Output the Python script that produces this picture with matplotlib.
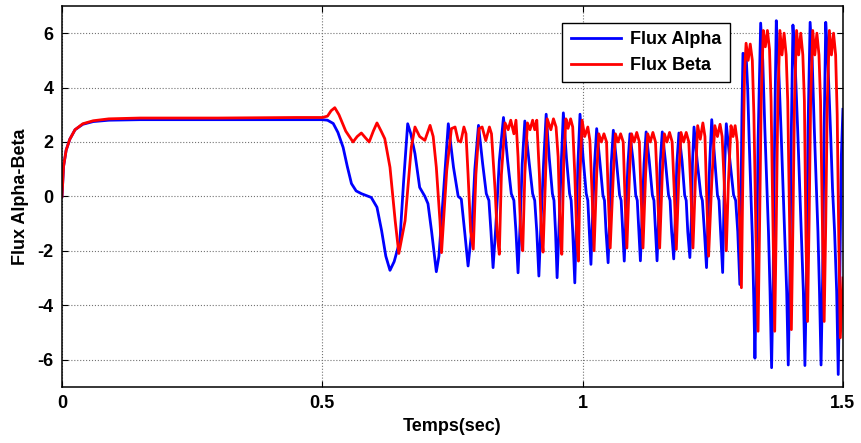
import matplotlib
matplotlib.use("Agg")
import matplotlib.pyplot as plt

# (time, flux) vertices, one list per stretch of the record
alpha_start = [(0, 0), (0.003, 1.1), (0.008, 1.7), (0.015, 2.1), (0.025, 2.45), (0.04, 2.65),
               (0.06, 2.75), (0.09, 2.8), (0.15, 2.82), (0.3, 2.82), (0.45, 2.82), (0.5, 2.82)]
alpha_transient = [(0.510, 2.80), (0.521, 2.68), (0.530, 2.35), (0.540, 1.80), (0.548, 1.10),
                   (0.556, 0.47), (0.565, 0.20), (0.575, 0.10), (0.594, -0.04), (0.605, -0.4),
                   (0.614, -1.27), (0.622, -2.2), (0.630, -2.72), (0.638, -2.4), (0.649, -1.64),
                   (0.656, 0.5), (0.664, 2.67), (0.670, 2.3), (0.678, 1.57), (0.687, 0.33),
                   (0.697, 0.0), (0.703, -0.27), (0.710, -1.3), (0.719, -2.77), (0.724, -2.2),
                   (0.733, 0.2), (0.742, 2.67), (0.752, 1.07), (0.761, 0.0), (0.767, -0.1),
                   (0.774, -1.4), (0.780, -2.56), (0.787, -1.27), (0.793, 1.0), (0.800, 2.61)]
alpha_steady = [(0.808, 1.2), (0.815, 0.1), (0.820, -0.15), (0.824, -1.3), (0.828, -2.62),
                (0.833, -1.2), (0.840, 1.3), (0.848, 2.9), (0.856, 1.3), (0.863, 0.1),
                (0.868, -0.15), (0.872, -1.3), (0.876, -2.81), (0.880, -1.0), (0.884, 1.2),
                (0.889, 2.77), (0.897, 1.3), (0.904, 0.1), (0.908, -0.15), (0.912, -1.3),
                (0.916, -2.93), (0.920, -1.0), (0.925, 1.2), (0.930, 3.02), (0.936, 1.4),
                (0.942, 0.1), (0.945, -0.15), (0.948, -1.3), (0.951, -2.99), (0.955, -1.0),
                (0.959, 1.2), (0.963, 3.07), (0.969, 1.4), (0.975, 0.1), (0.978, -0.15),
                (0.981, -1.3), (0.985, -3.18), (0.988, -1.0), (0.991, 1.2), (0.995, 3.02),
                (1.001, 1.4), (1.007, 0.1), (1.010, -0.15), (1.013, -1.3), (1.016, -2.5),
                (1.019, -0.8), (1.023, 1.2), (1.027, 2.49), (1.033, 1.3), (1.039, 0.05),
                (1.042, -0.15), (1.045, -1.3), (1.049, -2.44), (1.052, -0.8), (1.055, 1.2),
                (1.059, 2.43), (1.065, 1.3), (1.071, 0.05), (1.074, -0.15), (1.077, -1.3),
                (1.080, -2.38), (1.083, -0.8), (1.087, 1.2), (1.091, 2.3), (1.097, 1.3),
                (1.102, 0.05), (1.105, -0.15), (1.108, -1.3), (1.111, -2.37), (1.114, -0.8),
                (1.118, 1.2), (1.122, 2.37), (1.128, 1.3), (1.134, 0.05), (1.137, -0.15),
                (1.140, -1.3), (1.143, -2.37), (1.146, -0.8), (1.149, 1.2), (1.153, 2.37),
                (1.159, 1.3), (1.165, 0.05), (1.168, -0.15), (1.171, -1.3), (1.175, -2.3),
                (1.178, -0.8), (1.181, 1.2), (1.185, 2.33), (1.191, 1.3), (1.196, 0.05),
                (1.199, -0.15), (1.202, -1.3), (1.206, -2.25), (1.209, -0.8), (1.211, 1.2),
                (1.214, 2.55), (1.220, 1.3), (1.227, 0.05), (1.230, -0.15), (1.234, -1.3),
                (1.238, -2.62), (1.241, -0.8), (1.244, 1.2), (1.248, 2.82), (1.254, 1.3),
                (1.259, 0.05), (1.262, -0.15), (1.265, -1.3), (1.269, -2.8), (1.271, -0.8),
                (1.273, 1.2), (1.276, 2.67), (1.283, 1.3), (1.290, 0.05), (1.294, -0.15),
                (1.298, -1.3), (1.302, -3.24)]
alpha_fast = [(1.304, -0.5), (1.306, 3.0), (1.308, 5.26), (1.314, 5.2), (1.317, 4.0),
              (1.320, 2.0), (1.323, 0.2), (1.326, -1.5), (1.329, -4.0), (1.331, -5.95),
              (1.334, -3.0), (1.337, 2.0), (1.342, 6.37), (1.346, 5.0), (1.350, 2.5),
              (1.354, 0.3), (1.357, -1.3), (1.360, -3.5), (1.363, -6.3), (1.366, -3.0),
              (1.369, 2.5), (1.372, 6.46), (1.376, 5.0), (1.381, 2.5), (1.385, 0.3),
              (1.388, -1.3), (1.392, -3.5), (1.395, -6.2), (1.398, -3.0), (1.401, 2.5),
              (1.404, 6.3), (1.408, 5.0), (1.413, 2.5), (1.417, 0.3), (1.420, -1.3),
              (1.424, -3.5), (1.427, -6.22), (1.430, -3.0), (1.433, 2.5), (1.437, 6.4),
              (1.441, 5.0), (1.445, 2.5), (1.449, 0.3), (1.452, -1.3), (1.455, -3.5),
              (1.458, -6.2), (1.461, -3.0), (1.464, 2.5), (1.467, 6.4), (1.471, 5.0),
              (1.476, 2.5), (1.480, 0.3), (1.484, -1.3), (1.488, -3.5), (1.491, -6.55),
              (1.494, -3.0), (1.497, 1.5), (1.500, 3.2)]

beta_start = [(0, 0), (0.003, 1.1), (0.008, 1.7), (0.015, 2.1), (0.025, 2.45), (0.04, 2.67),
              (0.06, 2.78), (0.09, 2.85), (0.15, 2.88), (0.3, 2.88), (0.45, 2.9), (0.5, 2.9)]
beta_transient = [(0.510, 2.95), (0.517, 3.15), (0.524, 3.26), (0.532, 3.0), (0.545, 2.4),
                  (0.559, 2.0), (0.567, 2.2), (0.575, 2.33), (0.583, 2.15), (0.590, 2.0),
                  (0.598, 2.4), (0.605, 2.7), (0.613, 2.4), (0.620, 2.12), (0.630, 1.07),
                  (0.640, -0.9), (0.647, -2.1), (0.653, -1.5), (0.659, -0.9), (0.671, 1.81),
                  (0.678, 2.55), (0.687, 2.2), (0.697, 2.06), (0.707, 2.61), (0.713, 2.2),
                  (0.719, 1.07), (0.726, -0.9), (0.729, -2.07), (0.739, 0.95), (0.748, 2.49),
                  (0.755, 2.55), (0.761, 2.05), (0.766, 2.0), (0.772, 2.55), (0.776, 2.3),
                  (0.780, 0.8), (0.785, -1.3), (0.790, -1.94)]
beta_steady = [(0.795, 0.8), (0.801, 2.49), (0.807, 2.55), (0.814, 2.05), (0.821, 2.55),
               (0.825, 2.3), (0.832, 0.2), (0.836, -1.4), (0.840, -2.13), (0.844, 0.8),
               (0.851, 2.7), (0.857, 2.45), (0.862, 2.8), (0.868, 2.3), (0.872, 2.8),
               (0.876, 1.45), (0.881, -1.3), (0.885, -2.0), (0.889, 0.8), (0.894, 2.7),
               (0.899, 2.45), (0.904, 2.8), (0.908, 2.45), (0.912, 2.8), (0.917, 0.8),
               (0.921, -1.4), (0.924, -2.05), (0.930, 1.45), (0.932, 2.85), (0.939, 2.45),
               (0.944, 2.85), (0.949, 2.55), (0.953, 1.45), (0.957, -1.4), (0.960, -2.13),
               (0.964, 1.45), (0.968, 2.85), (0.972, 2.5), (0.977, 2.85), (0.981, 2.55),
               (0.985, 0.8), (0.989, -1.6), (0.992, -2.38), (0.995, 0.8), (0.999, 2.8),
               (1.004, 2.2), (1.010, 2.55), (1.014, 2.05), (1.018, 0.2), (1.022, -2.0),
               (1.027, 0.8), (1.031, 2.3), (1.036, 2.0), (1.041, 2.3), (1.046, 2.0),
               (1.049, 0.2), (1.053, -1.9), (1.059, 0.8), (1.063, 2.3), (1.068, 2.0),
               (1.073, 2.3), (1.078, 2.0), (1.081, 0.2), (1.085, -1.9), (1.090, 0.8),
               (1.094, 2.3), (1.099, 2.0), (1.104, 2.35), (1.109, 2.0), (1.112, 0.2),
               (1.116, -1.9), (1.121, 0.8), (1.125, 2.3), (1.130, 2.0), (1.135, 2.35),
               (1.140, 2.0), (1.144, 0.2), (1.148, -1.9), (1.153, 0.8), (1.157, 2.3),
               (1.162, 2.0), (1.167, 2.35), (1.172, 2.0), (1.176, 0.2), (1.180, -1.95),
               (1.185, 0.8), (1.189, 2.35), (1.194, 2.0), (1.199, 2.35), (1.204, 2.0),
               (1.208, 0.2), (1.212, -1.9), (1.217, 0.8), (1.221, 2.6), (1.226, 2.1),
               (1.231, 2.7), (1.235, 2.2), (1.238, 0.2), (1.242, -2.2), (1.248, 0.5),
               (1.254, 2.6), (1.259, 2.2), (1.264, 2.65), (1.268, 2.2), (1.272, 0.5),
               (1.276, -2.0), (1.280, 0.5), (1.285, 2.6), (1.289, 2.2), (1.293, 2.6),
               (1.297, 2.0), (1.301, -0.5), (1.305, -3.36)]
beta_fast = [(1.308, 1.0), (1.311, 4.5), (1.314, 5.63), (1.318, 5.0), (1.322, 5.6),
             (1.326, 5.0), (1.329, 3.0), (1.333, -1.5), (1.337, -4.96), (1.340, -1.0),
             (1.343, 3.5), (1.347, 6.1), (1.351, 5.5), (1.355, 6.1), (1.359, 5.4),
             (1.362, 3.5), (1.366, -1.5), (1.369, -4.96), (1.372, -1.0), (1.375, 3.5),
             (1.379, 6.1), (1.383, 5.2), (1.387, 6.0), (1.391, 5.2), (1.394, 3.5),
             (1.398, -1.5), (1.401, -4.9), (1.404, -1.0), (1.407, 3.5), (1.411, 6.1),
             (1.415, 5.2), (1.419, 6.0), (1.423, 5.2), (1.426, 3.5), (1.429, -1.5),
             (1.432, -4.6), (1.435, -1.0), (1.438, 3.5), (1.442, 6.1), (1.446, 5.2),
             (1.450, 6.0), (1.454, 5.2), (1.457, 3.5), (1.461, -1.5), (1.464, -4.6),
             (1.467, -1.0), (1.470, 3.5), (1.474, 6.1), (1.478, 5.2), (1.482, 6.0),
             (1.486, 5.2), (1.489, 3.0), (1.492, -1.5), (1.495, -5.2), (1.500, -3.0)]

x_ticks = [0, 0.5, 1, 1.5]
x_tick_labels = ["0", "0.5", "1", "1.5"]
y_ticks = [-6, -4, -2, 0, 2, 4, 6]

alpha = alpha_start + alpha_transient + alpha_steady + alpha_fast
beta = beta_start + beta_transient + beta_steady + beta_fast
t_a, f_a = zip(*alpha)
t_b, f_b = zip(*beta)

plt.rcParams['font.family'] = ['Liberation Sans', 'DejaVu Sans']
plt.rcParams['font.weight'] = 'bold'
plt.rcParams['axes.unicode_minus'] = False

fig = plt.figure(figsize=(8.61, 4.43), dpi=100)
ax = fig.add_axes([0.072, 0.127, 0.907, 0.8595])

ax.plot(t_a, f_a, color=(0, 0, 1), lw=2.0, label='Flux Alpha')
ax.plot(t_b, f_b, color=(1, 0, 0), lw=2.0, label='Flux Beta')

ax.set_xlim(0, 1.5)
ax.set_ylim(-7, 7)
ax.set_xticks(x_ticks)
ax.set_xticklabels(x_tick_labels)
ax.set_yticks(y_ticks)
ax.grid(True, ls=':', color='0.45', lw=0.8)
ax.tick_params(direction='in', top=True, right=True, length=4, labelsize=13, pad=6)
for s in ax.spines.values():
    s.set_linewidth(1.1)

ax.set_xlabel('Temps(sec)', fontsize=13, fontweight='bold', labelpad=4)
ax.set_ylabel('Flux Alpha-Beta', fontsize=13, fontweight='bold', labelpad=6)

leg = ax.legend(loc='upper right', bbox_to_anchor=(0.855, 0.955), fontsize=13,
                frameon=True, fancybox=False, edgecolor='black', framealpha=1,
                handlelength=2.8, labelspacing=0.5, borderpad=0.45, handletextpad=0.5,
                borderaxespad=0)
leg.get_frame().set_linewidth(1.0)
for txt in leg.get_texts():
    txt.set_fontweight('bold')

fig.savefig('out.png', dpi=100)
